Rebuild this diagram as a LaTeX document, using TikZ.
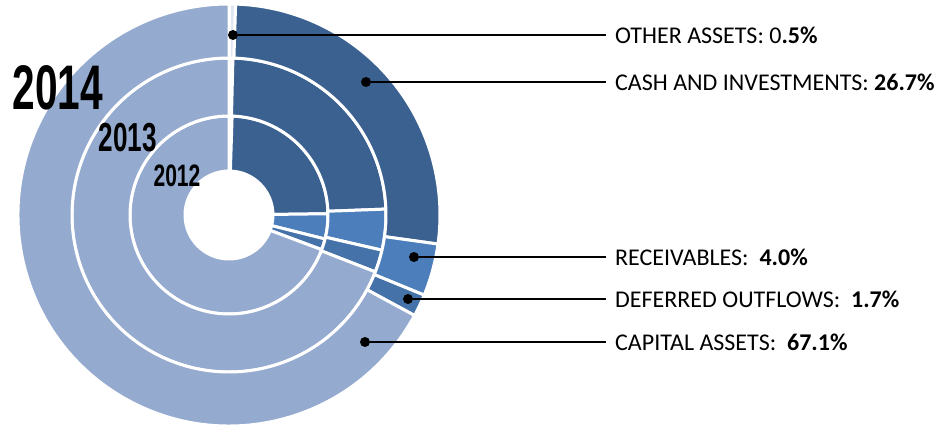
\documentclass[tikz,border=0pt]{standalone}
\usepackage{fontspec}
\setmainfont{Carlito}
\newfontfamily\yearfont{Liberation Sans}
\usetikzlibrary{positioning}
\definecolor{capitalblue}{RGB}{149, 170, 207}
\definecolor{cashblue}{RGB}{59, 97, 145}
\definecolor{receivblue}{RGB}{75, 126, 187}
\definecolor{deferblue}{RGB}{68, 114, 169}
\definecolor{otherblue}{RGB}{222, 230, 242}

\begin{document}
\begin{tikzpicture}[x=1pt, y=1pt,
    slice/.style={draw=white, line width=3pt},
    dot/.style={circle, fill=black, inner sep=0pt, minimum size=10pt},
    leader/.style={draw=black, line width=2pt},
    lbl/.style={anchor=west, inner xsep=9pt, inner ysep=0pt, font=\fontsize{24}{28}\selectfont},
    year/.style={inner sep=0pt}]
    \useasboundingbox (0,0) rectangle (935,425);
    \coordinate (c) at (229,210);

    % Rings: inner radius / outer radius / start % / end % / colour
    \foreach \ri/\ro/\pa/\pb/\col in {
        44/99/0/0.5/otherblue, 44/99/0.5/24.8/cashblue, 44/99/24.8/28.9/receivblue,
        44/99/28.9/30.7/deferblue, 44/99/30.7/100/capitalblue,
        99/157/0/0.4/otherblue, 99/157/0.4/24.4/cashblue, 99/157/24.4/28.6/receivblue,
        99/157/28.6/30.9/deferblue, 99/157/30.9/100/capitalblue,
        157/211/0/0.5/otherblue, 157/211/0.5/27.2/cashblue, 157/211/27.2/31.2/receivblue,
        157/211/31.2/32.9/deferblue, 157/211/32.9/100/capitalblue}
    {
        \pgfmathsetmacro\aa{90-3.6*\pa}
        \pgfmathsetmacro\ab{90-3.6*\pb}
        \draw[slice, fill=\col, shift={(c)}] (\aa:\ro) arc[start angle=\aa, end angle=\ab, radius=\ro]
            -- (\ab:\ri) arc[start angle=\ab, end angle=\aa, radius=\ri] -- cycle;
    }

    % Year labels
    \node[year, font=\yearfont\bfseries\fontsize{63}{63}\selectfont] (y2014) at (58,337.5) {\scalebox{0.645}[1]{2014}};
    \node[year, font=\yearfont\bfseries\fontsize{40.5}{40.5}\selectfont] (y2013) at (128,287.5) {\scalebox{0.645}[1]{2013}};
    \node[year, font=\yearfont\bfseries\fontsize{31}{31}\selectfont] (y2012) at (177,249) {\scalebox{0.68}[1]{2012}};

    % Callouts
    \node[dot] (otherdot) at (233,390) {};
    \node[lbl] (otherlbl) at (606,390) {OTHER ASSETS: 0\textbf{.5\%}};
    \draw[leader] (otherdot) -- (otherlbl.west);

    \node[dot] (cashdot) at (366,343) {};
    \node[lbl] (cashlbl) at (606,343) {CASH AND INVESTMENTS: \textbf{26.7\%}};
    \draw[leader] (cashdot) -- (cashlbl.west);

    \node[dot] (receivdot) at (414,168) {};
    \node[lbl] (receivlbl) at (606,168) {RECEIVABLES:\ \ \textbf{4.0\%}};
    \draw[leader] (receivdot) -- (receivlbl.west);

    \node[dot] (deferdot) at (408,126) {};
    \node[lbl] (deferlbl) at (606,126) {DEFERRED OUTFLOWS:\ \ \textbf{1.7\%}};
    \draw[leader] (deferdot) -- (deferlbl.west);

    \node[dot] (capitaldot) at (365,83) {};
    \node[lbl] (capitallbl) at (606,83) {CAPITAL ASSETS:\ \ \textbf{67.1\%}};
    \draw[leader] (capitaldot) -- (capitallbl.west);
\end{tikzpicture}
\end{document}
